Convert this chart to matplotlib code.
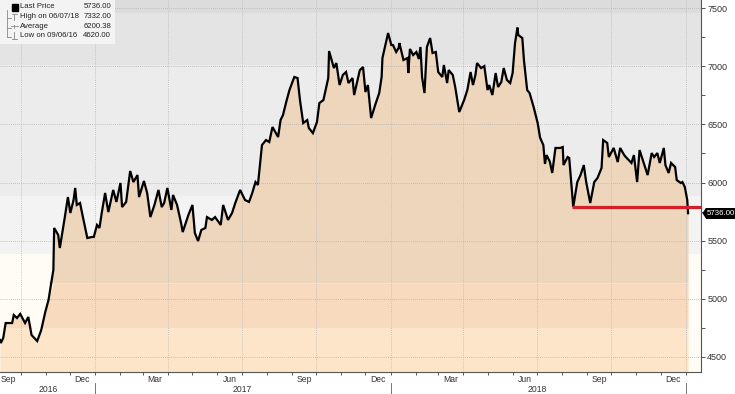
import matplotlib
matplotlib.use("Agg")
import matplotlib.pyplot as plt
import matplotlib.dates as mdates
import matplotlib.transforms as mtransforms
from matplotlib.patches import Rectangle, Polygon
import numpy as np
import pandas as pd

# ---------------- data ----------------
dates = [
 "2016-09-05","2016-09-06","2016-09-09","2016-09-12","2016-09-20","2016-09-22","2016-09-26","2016-09-30",
 "2016-10-06","2016-10-10","2016-10-14","2016-10-21","2016-10-26","2016-10-31","2016-11-04","2016-11-10",
 "2016-11-11","2016-11-16","2016-11-18","2016-11-24","2016-11-28","2016-12-01","2016-12-05","2016-12-07",
 "2016-12-09","2016-12-13","2016-12-16","2016-12-22","2016-12-28","2016-12-30","2017-01-03","2017-01-06",
 "2017-01-09","2017-01-13","2017-01-17","2017-01-23","2017-01-27","2017-02-01","2017-02-03","2017-02-08",
 "2017-02-13","2017-02-17","2017-02-22","2017-02-24","2017-03-02","2017-03-06","2017-03-10","2017-03-15",
 "2017-03-20","2017-03-24","2017-03-27","2017-03-31","2017-04-05","2017-04-07","2017-04-12","2017-04-17",
 "2017-04-19","2017-04-26","2017-05-01","2017-05-04","2017-05-08","2017-05-12","2017-05-17","2017-05-19",
 "2017-05-25","2017-05-29","2017-06-05","2017-06-08","2017-06-14","2017-06-19","2017-06-23","2017-06-29",
 "2017-07-05","2017-07-10","2017-07-14","2017-07-18","2017-07-21","2017-07-26","2017-07-31","2017-08-04",
 "2017-08-08","2017-08-15","2017-08-18","2017-08-21","2017-08-25","2017-08-29","2017-09-04","2017-09-08",
 "2017-09-11","2017-09-15","2017-09-20","2017-09-22","2017-09-27","2017-10-02","2017-10-05","2017-10-10",
 "2017-10-16","2017-10-17","2017-10-23","2017-10-26","2017-10-30","2017-11-03","2017-11-07","2017-11-10",
 "2017-11-15","2017-11-17","2017-11-24","2017-11-28","2017-12-01","2017-12-04","2017-12-08","2017-12-13",
 "2017-12-18","2017-12-21","2017-12-22","2017-12-29","2018-01-02","2018-01-04","2018-01-08","2018-01-11",
 "2018-01-12","2018-01-17","2018-01-22","2018-01-23","2018-01-25","2018-01-29","2018-02-02","2018-02-05",
 "2018-02-07","2018-02-09","2018-02-12","2018-02-15","2018-02-19","2018-02-22","2018-02-26","2018-03-01",
 "2018-03-06","2018-03-08","2018-03-12","2018-03-14","2018-03-19","2018-03-22","2018-03-27","2018-04-02",
 "2018-04-06","2018-04-10","2018-04-13","2018-04-16","2018-04-18","2018-04-23","2018-04-27","2018-05-01",
 "2018-05-03","2018-05-07","2018-05-11","2018-05-14","2018-05-18","2018-05-21","2018-05-25","2018-05-29",
 "2018-06-01","2018-06-04","2018-06-07","2018-06-08","2018-06-13","2018-06-15","2018-06-19","2018-06-22",
 "2018-06-27","2018-07-02","2018-07-05","2018-07-09","2018-07-11","2018-07-13","2018-07-17","2018-07-20",
 "2018-07-24","2018-07-30","2018-08-02","2018-08-03","2018-08-08","2018-08-10","2018-08-15","2018-08-20",
 "2018-08-24","2018-08-28","2018-08-31","2018-09-05","2018-09-10","2018-09-14","2018-09-19","2018-09-21",
 "2018-09-26","2018-09-28","2018-10-04","2018-10-09","2018-10-12","2018-10-17","2018-10-19","2018-10-26",
 "2018-10-29","2018-11-02","2018-11-05","2018-11-09","2018-11-15","2018-11-20","2018-11-23","2018-11-27",
 "2018-11-30","2018-12-05","2018-12-07","2018-12-11","2018-12-14","2018-12-19","2018-12-21","2018-12-26",
 "2018-12-28","2018-12-31","2019-01-03","2019-01-04",
]
prices = [
 4646,4620,4663,4792,4792,4861,4835,4870,
 4792,4844,4689,4637,4732,4887,4990,5248,
 5609,5549,5437,5695,5875,5738,5850,5953,
 5807,5824,5721,5523,5532,5532,5635,5609,
 5746,5910,5746,5936,5833,5996,5789,5833,
 6099,6004,6064,5875,6013,5910,5703,5807,
 5936,5789,5824,5953,5764,5893,5807,5650,
 5574,5721,5807,5566,5497,5592,5609,5703,
 5678,5703,5635,5807,5678,5738,5824,5936,
 5850,5833,5910,6004,5979,6322,6365,6348,
 6477,6391,6537,6580,6692,6795,6907,6898,
 6709,6511,6537,6468,6425,6520,6683,6709,
 6898,7130,6984,7027,6838,6924,6950,6855,
 6898,6752,6965,6993,6778,6838,6554,6666,
 6769,6907,7070,7285,7182,7182,7122,7156,
 7199,7053,7070,6941,7148,7096,7122,7062,
 7165,6907,6769,7165,7242,7113,7122,6950,
 6907,7010,6855,6967,6924,6821,6606,6709,
 6795,6950,6838,6924,7027,6984,7001,6795,
 6838,6752,6941,6821,6864,6984,6881,6855,
 6941,7199,7332,7268,7242,7053,6795,6769,
 6649,6511,6385,6322,6160,6236,6180,6082,
 6297,6297,6305,6150,6219,6211,5790,6004,
 6064,6150,6004,5824,6004,6039,6125,6365,
 6340,6219,6297,6176,6297,6236,6219,6168,
 6236,6004,6279,6193,6064,6253,6219,6253,
 6168,6297,6150,6082,6168,6133,6021,5996,
 6004,5961,5850,5736,
]
legend_names = ["Last Price", "High on 06/07/18", "Average", "Low on 09/06/16"]
legend_values = ["5736.00", "7332.00", "6200.38", "4620.00"]
last_price = 5736.00
support_level = 5790
support_start = "2018-08-14"
y_ticks = [4500, 5000, 5500, 6000, 6500, 7000, 7500]
month_labels = ["Sep", "Dec", "Mar", "Jun", "Sep", "Dec", "Mar", "Jun", "Sep", "Dec"]
month_label_dates = ["2016-09-16", "2016-12-16", "2017-03-16", "2017-06-16", "2017-09-16",
                     "2017-12-16", "2018-03-16", "2018-06-16", "2018-09-16", "2018-12-16"]
year_labels = ["2016", "2017", "2018"]
year_label_dates = ["2016-11-03", "2017-07-02", "2018-07-02"]
year_dividers = ["2017-01-01", "2018-01-01", "2019-01-01"]
quarter_grid = ["2016-10-01", "2017-01-01", "2017-04-01", "2017-07-01", "2017-10-01",
                "2018-01-01", "2018-04-01", "2018-07-01", "2018-10-01", "2019-01-01"]

FONT = ["Liberation Sans", "DejaVu Sans"]

# ---------------- figure ----------------
W, H = 735, 394
fig = plt.figure(figsize=(W / 100, H / 100), dpi=100)
fig.patch.set_facecolor("white")
ax = fig.add_axes([0, 22 / H, 701 / W, 372 / H])

x = pd.to_datetime(dates)
y = np.array(prices, dtype=float)
xmin, xmax = pd.Timestamp("2016-09-05"), pd.Timestamp("2019-01-20")
ymin, ymax = 4371, 7569
ax.set_xlim(xmin, xmax)
ax.set_ylim(ymin, ymax)

# background bands
bg_bands = [(7457, ymax, "#dcdcdc"), (7009, 7457, "#e4e4e4"), (5888, 7009, "#ececec"),
            (5388, 5888, "#f3f3f3"), (ymin, 5388, "#fffcf5")]
for lo, hi, c in bg_bands:
    ax.axhspan(lo, hi, color=c, lw=0, zorder=0)

# area fill bands
f1, f2 = 5136, 4749
ax.fill_between(x, f1, np.maximum(y, f1), color="#eed6bd", lw=0, zorder=1)
ax.fill_between(x, f2, np.clip(y, f2, f1), color="#f8dbbf", lw=0, zorder=1)
ax.fill_between(x, ymin, np.minimum(y, f2), color="#fde5c9", lw=0, zorder=1)

# grid
for yt in y_ticks:
    ax.axhline(yt, color="#b0b0b0", lw=0.6, ls=(0, (1, 1.5)), zorder=2)
for d in quarter_grid:
    ax.axvline(pd.Timestamp(d), color="#b8b8b8", lw=0.6, ls=(0, (1, 1.5)), zorder=2)

# price line
ax.plot(x, y, color="black", lw=1.6, zorder=4, solid_joinstyle="miter")

# support line
ax.plot([pd.Timestamp(support_start), xmax], [support_level, support_level],
        color="#d0202a", lw=2.3, zorder=5, solid_capstyle="butt")

# spines
for s in ["top", "left"]:
    ax.spines[s].set_visible(False)
for s in ["right", "bottom"]:
    ax.spines[s].set_color("#555555")
    ax.spines[s].set_linewidth(0.8)

# y axis (right)
ax.yaxis.tick_right()
ax.set_yticks(y_ticks)
ax.set_yticks([4750, 5250, 5750, 6250, 6750, 7250], minor=True)
ax.tick_params(axis="y", which="both", direction="out", length=3, width=0.7,
               color="#555555", labelsize=6.5, labelcolor="#333333", pad=1.5)
for lab in ax.get_yticklabels():
    lab.set_family(FONT)

# x axis: month ticks only, labels drawn as text
ax.xaxis.set_major_locator(mdates.MonthLocator())
ax.xaxis.set_major_formatter(plt.NullFormatter())
ax.tick_params(axis="x", which="both", direction="out", length=2.5, width=0.7, color="#555555")

bt = mtransforms.blended_transform_factory(ax.transData, fig.transFigure)
for lab, d in zip(month_labels, month_label_dates):
    fig.text(mdates.date2num(pd.Timestamp(d)), 1 - 379 / H, lab,
             transform=bt, ha="center", va="center", fontsize=6.2, color="#333333",
             family=FONT)
for lab, d in zip(year_labels, year_label_dates):
    fig.text(mdates.date2num(pd.Timestamp(d)), 1 - 389 / H, lab, transform=bt,
             ha="center", va="center", fontsize=6.2, color="#333333", family=FONT)
for d in year_dividers:
    xd = mdates.date2num(pd.Timestamp(d))
    fig.add_artist(plt.Line2D([xd, xd], [1 - 383 / H, 0], transform=bt,
                              color="#777777", lw=0.7))

# last price tag
def fx(px):
    return px / W

def fy(py):
    return 1 - py / H

ty = ax.transData.transform((0, last_price))[1]
tag_py = H - ty
fig.add_artist(Rectangle((fx(705.5), fy(tag_py + 5.5)), fx(29.5), 11 / H, transform=fig.transFigure,
                         fc="black", ec="none", zorder=6))
fig.add_artist(Polygon([(fx(702.5), fy(tag_py)), (fx(706), fy(tag_py - 5.5)),
                        (fx(706), fy(tag_py + 5.5))], closed=True, transform=fig.transFigure,
                       fc="black", ec="none", zorder=6))
fig.text(fx(720.5), fy(tag_py), f"{last_price:.2f}", ha="center", va="center",
         fontsize=5.7, color="white", family=FONT, zorder=7)

# legend box
fig.add_artist(Rectangle((0, fy(44)), fx(115), 44 / H, transform=fig.transFigure,
                         fc="#f5f5f5", ec="none", alpha=0.95, zorder=10))
rows_y = [7, 16.5, 26, 35.5]
for name, val, ry in zip(legend_names, legend_values, rows_y):
    fig.text(fx(19.5), fy(ry), name, ha="left", va="center", fontsize=5.6, color="#222222",
             family=FONT, zorder=11)
    fig.text(fx(111), fy(ry), val, ha="right", va="center", fontsize=5.6, color="#222222",
             family=FONT, zorder=11)
# legend symbols
fig.add_artist(Rectangle((fx(11.5), fy(10.5)), fx(6), 6 / H, transform=fig.transFigure,
                         fc="black", ec="black", zorder=11))
sym_kw = dict(transform=fig.transFigure, color="#888888", lw=0.6, zorder=11)
fig.add_artist(plt.Line2D([fx(7), fx(7)], [fy(10), fy(37)], **sym_kw))
for ry in rows_y[1:]:
    fig.add_artist(plt.Line2D([fx(7), fx(11)], [fy(ry + 1.5), fy(ry + 1.5)], **sym_kw))
fig.add_artist(plt.Line2D([fx(12), fx(17)], [fy(13.5), fy(13.5)], **sym_kw))
fig.add_artist(plt.Line2D([fx(14.5), fx(14.5)], [fy(13.5), fy(20)], **sym_kw))
fig.add_artist(plt.Line2D([fx(11), fx(18)], [fy(26), fy(26)], **sym_kw))
fig.add_artist(plt.Line2D([fx(14.5), fx(14.5)], [fy(24.5), fy(27.5)], **sym_kw))
fig.add_artist(plt.Line2D([fx(14.5), fx(14.5)], [fy(32), fy(38.5)], **sym_kw))
fig.add_artist(plt.Line2D([fx(12), fx(17)], [fy(38.5), fy(38.5)], **sym_kw))

fig.savefig("out.png", dpi=100)
